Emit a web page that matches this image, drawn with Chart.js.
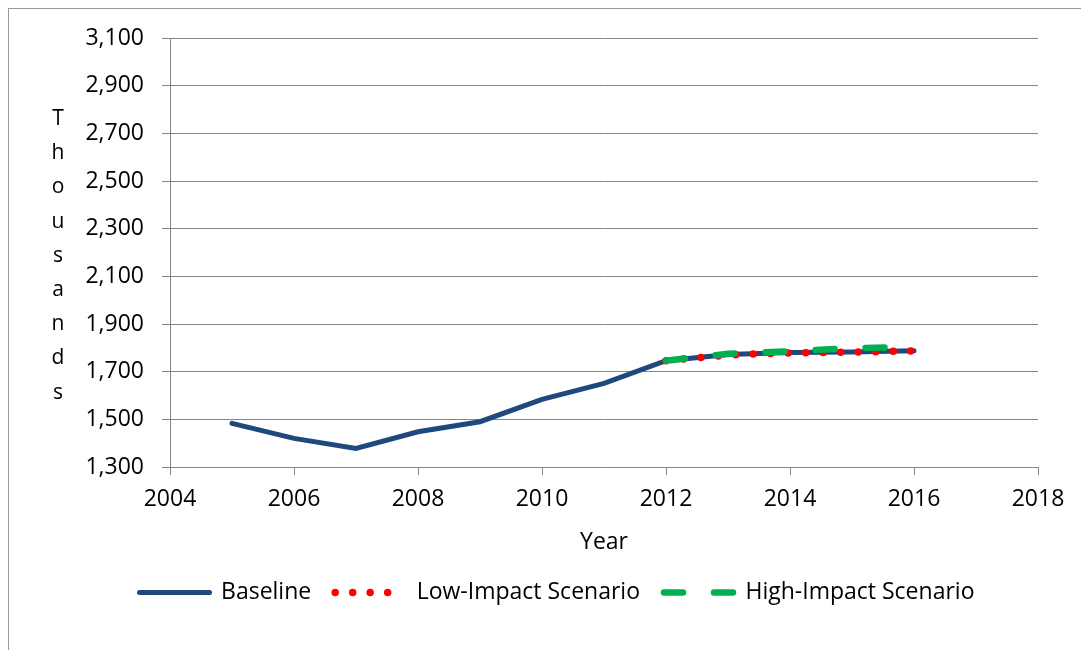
<!DOCTYPE html>
<html>
<head>
<meta charset="utf-8">
<script src="https://cdn.jsdelivr.net/npm/chart.js@4"></script>
<style>
  html, body { margin: 0; padding: 0; background: #fff; }
  #wrap { width: 1081px; height: 650px; position: relative; }
</style>
</head>
<body>
<div id="wrap"><canvas id="chart"></canvas></div>
<script>
// Years on the x axis
const years = [2005, 2006, 2007, 2008, 2009, 2010, 2011, 2012, 2013, 2014, 2015, 2016];

// Series values (thousands)
const baseline = [1483, 1420, 1378, 1448, 1490, 1584, 1651, 1746, 1772, 1780, 1783, 1788];
const lowImpact = [null, null, null, null, null, null, null, 1746, 1770, 1779, 1782, 1787];
const highImpact = [null, null, null, null, null, null, null, 1746, 1775, 1786, 1798, 1804];

const seriesNames = ["Baseline", "Low-Impact Scenario", "High-Impact Scenario"];
const yTitle = "Thousands";
const xTitle = "Year";

const FONT = "'Open Sans', sans-serif";

function toPoints(values) {
  return years.map((yr, i) => ({ x: yr, y: values[i] }));
}

// Frame round the chart and the stacked y title
const decorPlugin = {
  id: "decor",
  beforeDraw(chart) {
    const ctx = chart.ctx;
    ctx.save();
    ctx.fillStyle = "#fff";
    ctx.fillRect(0, 0, chart.width, chart.height);
    ctx.strokeStyle = "#9a9a9a";
    ctx.lineWidth = 1;
    ctx.strokeRect(8.5, 8.5, 1200, 800);
    ctx.restore();
  },
  afterDraw(chart) {
    const ctx = chart.ctx;
    ctx.save();
    ctx.fillStyle = "#000";
    ctx.font = "21px " + FONT;
    ctx.textAlign = "center";
    ctx.textBaseline = "middle";
    let y = 119;
    for (const ch of yTitle) {
      ctx.fillText(ch, 58, y);
      y += 34.2;
    }
    ctx.restore();
  }
};

// legend samples should copy the dash pattern of each line
function legendLabels(chart) {
  const items = Chart.defaults.plugins.legend.labels.generateLabels(chart);
  items.forEach(item => {
    const ds = chart.data.datasets[item.datasetIndex];
    item.lineDash = ds.borderDash || [];
    item.lineCap = ds.borderCapStyle;
    item.lineWidth = ds.borderWidth;
    item.strokeStyle = ds.borderColor;
  });
  return items;
}

new Chart(document.getElementById("chart"), {
  type: "line",
  data: {
    datasets: [
      {
        label: seriesNames[0],
        data: toPoints(baseline),
        borderColor: "#1F497D",
        backgroundColor: "#1F497D",
        borderWidth: 5,
        borderCapStyle: "round",
        pointRadius: 0,
        order: 2
      },
      {
        label: seriesNames[1],
        data: toPoints(lowImpact),
        borderColor: "#FF0000",
        backgroundColor: "#FF0000",
        borderWidth: 7.5,
        borderCapStyle: "round",
        borderDash: [0, 17.5],
        pointRadius: 0,
        order: 1
      },
      {
        label: seriesNames[2],
        data: toPoints(highImpact),
        borderColor: "#00B050",
        backgroundColor: "#00B050",
        borderWidth: 6.5,
        borderCapStyle: "round",
        borderDash: [19, 31],
        pointRadius: 0,
        order: 0
      }
    ]
  },
  options: {
    responsive: true,
    maintainAspectRatio: false,
    animation: false,
    layout: { padding: { left: 76, right: 43, top: 38, bottom: 36 } },
    plugins: {
      legend: {
        position: "bottom",
        labels: {
          generateLabels: legendLabels,
          sort: (a, b) => a.datasetIndex - b.datasetIndex,
          usePointStyle: true,
          pointStyle: "line",
          pointStyleWidth: 70,
          boxWidth: 70,
          padding: 24,
          color: "#000",
          font: { family: FONT, size: 23 }
        }
      },
      tooltip: { enabled: false }
    },
    scales: {
      x: {
        type: "linear",
        min: 2004,
        max: 2018,
        afterFit: (s) => { s.height = 90; },
        ticks: {
          stepSize: 2,
          padding: 11,
          color: "#000",
          font: { family: FONT, size: 23 },
          callback: (v) => String(v)
        },
        grid: { display: true, drawOnChartArea: false, tickLength: 8, color: "#868686" },
        border: { color: "#868686" },
        title: {
          display: true,
          text: xTitle,
          color: "#000",
          font: { family: FONT, size: 23 },
          padding: { top: 2, bottom: 1 }
        }
      },
      y: {
        min: 1300,
        max: 3100,
        afterFit: (s) => { s.width = 94; },
        ticks: {
          stepSize: 200,
          padding: 18,
          color: "#000",
          font: { family: FONT, size: 23 },
          callback: (v) => v.toLocaleString("en-US")
        },
        grid: { color: "#868686", tickLength: 8 },
        border: { color: "#868686" }
      }
    }
  },
  plugins: [decorPlugin]
});
</script>
</body>
</html>
